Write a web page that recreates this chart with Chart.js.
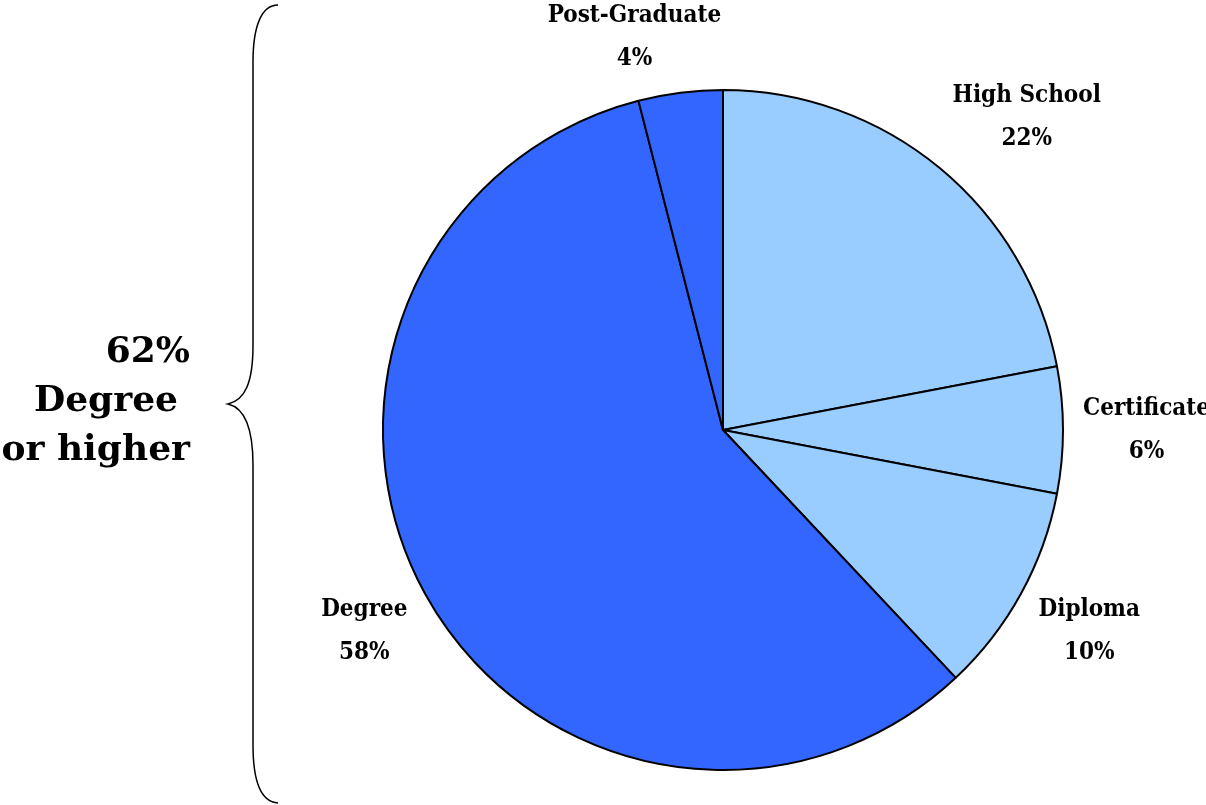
<!DOCTYPE html>
<html>
<head>
<meta charset="utf-8">
<title>Education level</title>
<script src="https://cdn.jsdelivr.net/npm/chart.js@4.4.0/dist/chart.umd.min.js"></script>
<style>
  html, body { margin: 0; padding: 0; background: #fff; }
  #wrap { position: relative; width: 1206px; height: 805px; }
</style>
</head>
<body>
<div id="wrap"><canvas id="eduPie"></canvas></div>
<script>
// slices go clockwise from 12 o'clock
const categories = ['High School', 'Certificate', 'Diploma', 'Degree', 'Post-Graduate'];
const shares = [22, 6, 10, 58, 4];
const summaryLines = ['62%', 'Degree', 'or higher'];

const LIGHT = '#99CCFF';
const DARK = '#3366FF';
const sliceColors = [LIGHT, LIGHT, LIGHT, DARK, DARK];

const labelFont = 'bold 24px "DejaVu Serif Condensed", "DejaVu Serif"';
const bigFont = 'bold 36px "DejaVu Serif"';

const clamp1 = v => Math.max(-1, Math.min(1, v));

// category + percent outside each slice; the box hangs off an anchor
// just past the rim, pushed sideways/up/down depending on the angle
const outsideLabels = {
  id: 'outsideLabels',
  afterDatasetsDraw(chart) {
    const { ctx } = chart;
    const meta = chart.getDatasetMeta(0);
    ctx.save();
    ctx.font = labelFont;
    ctx.fillStyle = '#000';
    ctx.textAlign = 'center';
    ctx.textBaseline = 'middle';
    meta.data.forEach((arc, i) => {
      const p = arc.getProps(['x', 'y', 'startAngle', 'endAngle', 'outerRadius'], true);
      const mid = (p.startAngle + p.endAngle) / 2;
      const lines = [categories[i], shares[i] + '%'];
      const lineH = 43;
      const w = Math.max(...lines.map(t => ctx.measureText(t).width));
      const h = lineH + 28;
      const ux = Math.cos(mid), uy = Math.sin(mid);
      const r = p.outerRadius + 20;
      const cx = p.x + ux * r + (w / 2) * clamp1(4 * ux);
      const cy = p.y + uy * r + (h / 2) * clamp1(1.6 * uy);
      ctx.fillText(lines[0], cx, cy - lineH / 2);
      ctx.fillText(lines[1], cx, cy + lineH / 2);
    });
    ctx.restore();
  }
};

// brace and summary text on the left
const braceNote = {
  id: 'braceNote',
  afterDraw(chart) {
    const { ctx } = chart;
    ctx.save();
    ctx.strokeStyle = '#000';
    ctx.lineWidth = 1.5;
    ctx.beginPath();
    ctx.moveTo(278, 5);
    ctx.bezierCurveTo(262, 5, 253, 25, 253, 62);
    ctx.lineTo(253, 345);
    ctx.bezierCurveTo(253, 383, 245, 400, 228, 404);
    ctx.bezierCurveTo(245, 408, 253, 428, 253, 465);
    ctx.lineTo(253, 745);
    ctx.bezierCurveTo(253, 783, 262, 802, 278, 803);
    ctx.stroke();

    ctx.font = bigFont;
    ctx.fillStyle = '#000';
    ctx.textAlign = 'right';
    ctx.textBaseline = 'alphabetic';
    const rights = [190, 178, 190];
    summaryLines.forEach((t, i) => ctx.fillText(t, rights[i], 362 + i * 49));
    ctx.restore();
  }
};

new Chart(document.getElementById('eduPie'), {
  type: 'pie',
  data: {
    labels: categories,
    datasets: [{
      data: shares,
      backgroundColor: sliceColors,
      borderColor: '#000',
      borderWidth: 2,
      borderAlign: 'center'
    }]
  },
  options: {
    responsive: true,
    maintainAspectRatio: false,
    animation: false,
    layout: { padding: { top: 89, bottom: 34, left: 382, right: 142 } },
    plugins: {
      legend: { display: false },
      tooltip: { enabled: false }
    }
  },
  plugins: [outsideLabels, braceNote]
});
</script>
</body>
</html>
